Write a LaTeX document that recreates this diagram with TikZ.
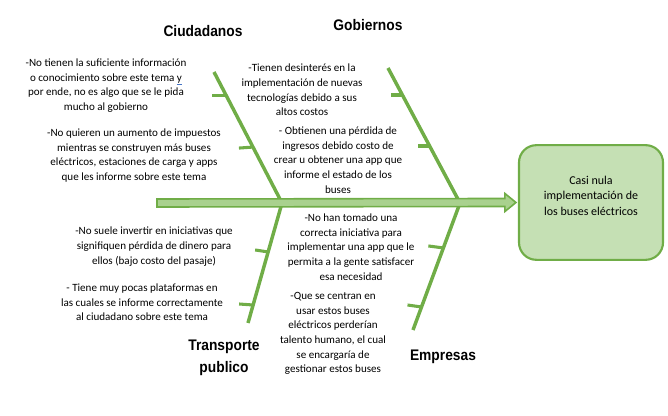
\documentclass[tikz,border=0pt]{standalone}
\usepackage{fontspec}
\setmainfont{Carlito}
\newfontfamily\headfont{Liberation Sans}[FakeStretch=0.9]
\usepackage{tikz}
\usetikzlibrary{positioning, calc}

\definecolor{bonegreen}{HTML}{70AD47}
\definecolor{boxgreen}{HTML}{C5E0B4}
\definecolor{spinefill}{HTML}{A9D18E}
\definecolor{markblue}{HTML}{4472C4}

\begin{document}
\begin{tikzpicture}[
    x=0.75pt, y=-0.75pt,
    % --- Global Styles ---
    cause/.style={font=\headfont\bfseries\fontsize{11.5}{16.5}\selectfont, align=center, inner sep=0pt},
    note/.style={font=\fontsize{8.3}{11}\selectfont, align=center, inner sep=0pt},
    bone/.style={draw=bonegreen, line width=2.6pt},
    rib/.style={draw=bonegreen, line width=2.3pt},
    spine/.style={draw=bonegreen, line width=1.2pt, fill=spinefill, line join=miter},
    effect/.style={draw=bonegreen, line width=1.6pt, fill=boxgreen, rounded corners=13pt,
        minimum width=108pt, minimum height=86pt, align=center, text depth=10pt,
        font=\fontsize{9}{11.6}\selectfont}
]
    \useasboundingbox (0,0) rectangle (668,416);

    % --- Effect ---
    \node[effect] (effect) at (591,202.5) {Casi nula\\implementación de\\los buses eléctricos};

    % --- Bone end points ---
    \coordinate (tail) at (157,203);
    \coordinate (jA) at (282,203);
    \coordinate (jB) at (460,203);
    \coordinate (ciuTop) at (214,72);
    \coordinate (gobTop) at (388,68);
    \coordinate (traEnd) at (248,323);
    \coordinate (empEnd) at (413,330);

    % --- Bones & ribs ---
    \draw[bone] (ciuTop) -- (jA);
    \draw[bone] (gobTop) -- (jB);
    \draw[bone] (jA) -- (traEnd);
    \draw[bone] (jB) -- (empEnd);

    \draw[rib] ($(ciuTop)!0.176!(jA)$) -- ++(-14,0);
    \draw[rib] ($(ciuTop)!0.573!(jA)$) -- ++(-14,1);
    \draw[rib] ($(gobTop)!0.2!(jB)$) -- ++(-11,0);
    \draw[rib] ($(gobTop)!0.578!(jB)$) -- ++(-12,0);
    \draw[rib] ($(jA)!0.408!(traEnd)$) -- ++(-13,-2);
    \draw[rib] ($(jA)!0.85!(traEnd)$) -- ++(-14,-1);
    \draw[rib] ($(jB)!0.354!(empEnd)$) -- ++(-15,-2);
    \draw[rib] ($(jB)!0.819!(empEnd)$) -- ++(-14,-2);

    % --- Spine arrow into the effect ---
    \coordinate (tip) at ($(effect.west)+(-2,0)$);
    \filldraw[spine] ($(tail)+(0,-4)$) -- ($(tip)+(-11,-4)$) -- ($(tip)+(-11,-9)$) -- (tip)
        -- ($(tip)+(-11,9)$) -- ($(tip)+(-11,4)$) -- ($(tail)+(0,4)$) -- cycle;

    % --- Causes ---
    \node[cause] (ciudadanos) at (203,31) {Ciudadanos};
    \node[cause] (gobiernos) at (368,25) {Gobiernos};
    \node[cause] (transporte) at (224,358) {Transporte\\publico};
    \node[cause] (empresas) at (443,357) {Empresas};

    % --- Notes ---
    \node[note] (ciuA) at (106,85.5) {-No tienen la suficiente información\\o conocimiento sobre este tema {\color{markblue}\underline{\color{black}y}}\\por ende, no es algo que se le pida\\mucho al gobierno};
    \node[note] (ciuB) at (134,155.5) {-No quieren un aumento de impuestos\\mientras se construyen más buses\\eléctricos, estaciones de carga y apps\\que les informe sobre este tema};
    \node[note] (gobA) at (302,90) {-Tienen desinterés en la\\implementación de nuevas\\tecnologías debido a sus\\altos costos};
    \node[note] (gobB) at (338,160) {- Obtienen una pérdida de\\ingresos debido costo de\\crear u obtener una app que\\informe el estado de los\\buses};
    \node[note] (traA) at (154,246.5) {-No suele invertir en iniciativas que\\signifiquen pérdida de dinero para\\ellos (bajo costo del pasaje)};
    \node[note] (traB) at (142,302.5) {- Tiene muy pocas plataformas en\\las cuales se informe correctamente\\al ciudadano sobre este tema};
    \node[note] (empA) at (351,247) {-No han tomado una\\correcta iniciativa para\\implementar una app que le\\permita a la gente satisfacer\\esa necesidad};
    \node[note] (empB) at (333,333.5) {-Que se centran en\\usar estos buses\\eléctricos perderían\\talento humano, el cual\\se encargaría de\\gestionar estos buses};

\end{tikzpicture}
\end{document}
